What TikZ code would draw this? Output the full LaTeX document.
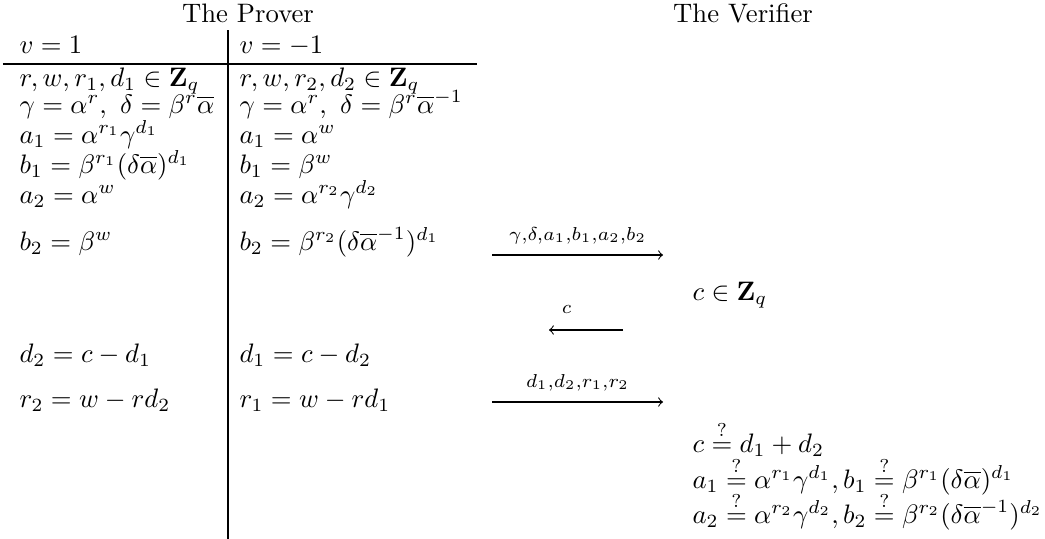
\documentclass[tikz,border=0pt]{standalone}
\usepackage{amsmath,amssymb}
\usepackage{tikz}

\begin{document}
\begin{tikzpicture}[x=0.3745pt, y=-0.3745pt]
    \tikzstyle{cell} = [anchor=base west, inner sep=0pt]
    \tikzstyle{head} = [anchor=base, inner sep=0pt]
    \tikzstyle{rule} = [line width=0.8pt]
    \tikzstyle{arrow} = [->, >=to]
    \tikzstyle{msg} = [above=4pt, inner sep=0pt]

    \useasboundingbox (0,0) rectangle (1045,539);

    % headings
    \node (prover) [head] at (248,22) {The Prover};
    \node (verifier) [head] at (743,22) {The Verifier};

    % table lines
    \coordinate (vtop) at (228,30);
    \coordinate (vbot) at (228,539);
    \coordinate (hleft) at (3,64);
    \coordinate (hright) at (477,64);
    \draw [rule] (vtop) -- (vbot);
    \draw [rule] (hleft) -- (hright);

    % prover, v = 1
    \node (la) [cell] at (19,53) {$v=1$};
    \node (lb) [cell] at (19,86) {$r,w,r_1,d_1\in\mathbf{Z}_q$};
    \node (lc) [cell] at (19,113) {$\gamma=\alpha^r,\ \delta=\beta^r\overline{\alpha}$};
    \node (ld) [cell] at (19,143) {$a_1=\alpha^{r_1}\gamma^{d_1}$};
    \node (le) [cell] at (19,173) {$b_1=\beta^{r_1}(\delta\overline{\alpha})^{d_1}$};
    \node (lf) [cell] at (19,203) {$a_2=\alpha^w$};
    \node (lg) [cell] at (19,250) {$b_2=\beta^w$};
    \node (lh) [cell] at (19,362) {$d_2=c-d_1$};
    \node (li) [cell] at (19,407) {$r_2=w-rd_2$};

    % prover, v = -1
    \node (ra) [cell] at (239,53) {$v=-1$};
    \node (rb) [cell] at (239,86) {$r,w,r_2,d_2\in\mathbf{Z}_q$};
    \node (rc) [cell] at (239,113) {$\gamma=\alpha^r,\ \delta=\beta^r\overline{\alpha}^{-1}$};
    \node (rd) [cell] at (239,143) {$a_1=\alpha^w$};
    \node (re) [cell] at (239,173) {$b_1=\beta^w$};
    \node (rf) [cell] at (239,203) {$a_2=\alpha^{r_2}\gamma^{d_2}$};
    \node (rg) [cell] at (239,250) {$b_2=\beta^{r_2}(\delta\overline{\alpha}^{-1})^{d_1}$};
    \node (rh) [cell] at (239,362) {$d_1=c-d_2$};
    \node (ri) [cell] at (239,407) {$r_1=w-rd_1$};

    % verifier
    \node (va) [cell] at (692,300) {$c\in\mathbf{Z}_q$};
    \node (vb) [cell] at (692,452) {$c\stackrel{?}{=}d_1+d_2$};
    \node (vc) [cell] at (692,488) {$a_1\stackrel{?}{=}\alpha^{r_1}\gamma^{d_1},b_1\stackrel{?}{=}\beta^{r_1}(\delta\overline{\alpha})^{d_1}$};
    \node (vd) [cell] at (692,523) {$a_2\stackrel{?}{=}\alpha^{r_2}\gamma^{d_2},b_2\stackrel{?}{=}\beta^{r_2}(\delta\overline{\alpha}^{-1})^{d_2}$};

    % messages
    \coordinate (m1s) at (492,255);
    \coordinate (m1e) at (663,255);
    \coordinate (m2s) at (623,330);
    \coordinate (m2e) at (549,330);
    \coordinate (m3s) at (492,402);
    \coordinate (m3e) at (663,402);
    \draw [arrow] (m1s) -- node (m1) [msg] {$\scriptstyle\gamma,\delta,a_1,b_1,a_2,b_2$} (m1e);
    \draw [arrow] (m2s) -- node (m2) [msg, above=2pt, pos=0.76] {$\scriptstyle c$} (m2e);
    \draw [arrow] (m3s) -- node (m3) [msg] {$\scriptstyle d_1,d_2,r_1,r_2$} (m3e);
\end{tikzpicture}
\end{document}
